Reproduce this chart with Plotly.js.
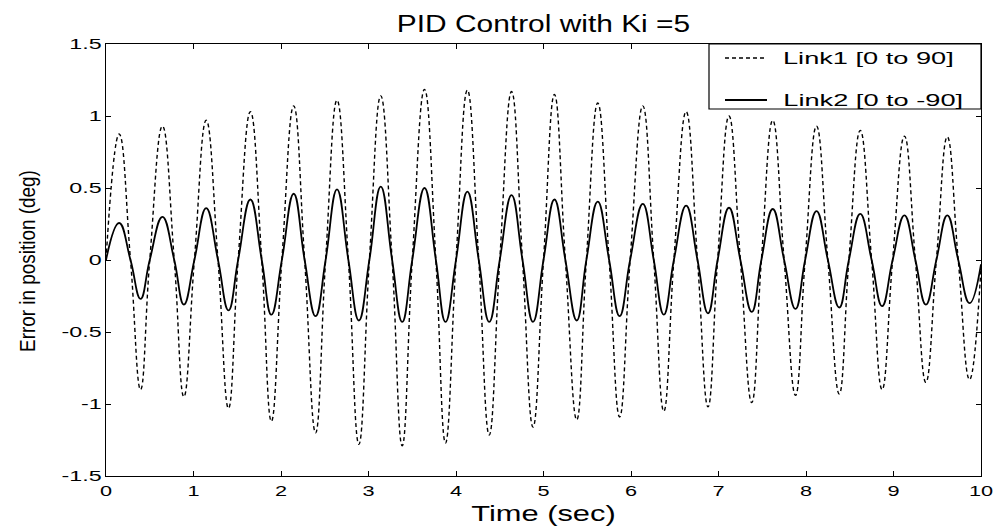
<!DOCTYPE html>
<html>
<head>
<meta charset="utf-8">
<script src="https://cdn.plot.ly/plotly-3.0.1.min.js"></script>
<style>
  html, body { margin: 0; padding: 0; background: #ffffff; }
  #chart { width: 994px; height: 528px; }
</style>
</head>
<body>
<div id="chart"></div>
<script>
// Time samples: start, then for each cycle peak, down-crossing, trough, up-crossing
const time = [0,
  0.15, 0.28, 0.395, 0.50,
  0.645, 0.78, 0.89, 1.01,
  1.145, 1.28, 1.40, 1.51,
  1.65, 1.78, 1.89, 2.01,
  2.145, 2.27, 2.395, 2.51,
  2.64, 2.77, 2.89, 3.01,
  3.14, 3.27, 3.385, 3.50,
  3.64, 3.77, 3.88, 4.00,
  4.13, 4.26, 4.38, 4.50,
  4.635, 4.76, 4.88, 5.00,
  5.125, 5.25, 5.38, 5.49,
  5.62, 5.75, 5.87, 5.99,
  6.135, 6.26, 6.375, 6.49,
  6.63, 6.76, 6.88, 6.99,
  7.12, 7.25, 7.38, 7.49,
  7.62, 7.75, 7.88, 7.99,
  8.12, 8.25, 8.38, 8.49,
  8.62, 8.75, 8.87, 8.99,
  9.125, 9.25, 9.37, 9.49,
  9.615, 9.74, 9.87, 10.0];

// Link1 [0 to 90] error (dashed)
const link1 = [0,
  0.875, 0, -0.90, 0,
  0.93, 0, -0.95, 0,
  0.97, 0, -1.03, 0,
  1.03, 0, -1.12, 0,
  1.07, 0, -1.20, 0,
  1.11, 0, -1.28, 0,
  1.14, 0, -1.29, 0,
  1.185, 0, -1.27, 0,
  1.18, 0, -1.215, 0,
  1.17, 0, -1.16, 0,
  1.15, 0, -1.11, 0,
  1.09, 0, -1.09, 0,
  1.07, 0, -1.05, 0,
  1.03, 0, -1.02, 0,
  1.00, 0, -0.99, 0,
  0.97, 0, -0.94, 0,
  0.93, 0, -0.93, 0,
  0.90, 0, -0.90, 0,
  0.86, 0, -0.85, 0,
  0.855, 0, -0.83, -0.05];

// Link2 [0 to -90] error (solid)
const link2 = [0,
  0.257, 0, -0.27, 0,
  0.30, 0, -0.31, 0,
  0.36, 0, -0.35, 0,
  0.42, 0, -0.38, 0,
  0.46, 0, -0.39, 0,
  0.49, 0, -0.42, 0,
  0.51, 0, -0.43, 0,
  0.50, 0, -0.43, 0,
  0.475, 0, -0.43, 0,
  0.45, 0, -0.43, 0,
  0.42, 0, -0.42, 0,
  0.405, 0, -0.39, 0,
  0.39, 0, -0.38, 0,
  0.377, 0, -0.37, 0,
  0.363, 0, -0.36, 0,
  0.354, 0, -0.34, 0,
  0.34, 0, -0.33, 0,
  0.32, 0, -0.32, 0,
  0.31, 0, -0.31, 0,
  0.31, 0, -0.30, -0.03];

const seriesNames = ['Link1 [0 to 90]', 'Link2 [0 to -90]'];
const xTicks = [0,1,2,3,4,5,6,7,8,9,10];
const yTicks = [-1.5,-1,-0.5,0,0.5,1,1.5];
const yTickText = ['-1.5','-1','-0.5','0','0.5','1','1.5'];
const chartTitle = 'PID Control with Ki =5';
const xTitle = 'Time (sec)';
const yTitle = 'Error in position (deg)';

const FONT = 'Liberation Sans, Arial, sans-serif';
const W = 994, H = 528, ML = 106, MR = 13, MT = 44, MB = 52;
const PW = W - ML - MR, PH = H - MT - MB;
const px = v => (v - ML) / PW;      // pixel x -> paper x
const py = v => (H - MB - v) / PH;  // pixel y -> paper y

const dashStyle = '4px,3px';

const traces = [
  {
    x: time, y: link1, name: seriesNames[0], type: 'scatter', mode: 'lines',
    line: {color: '#000000', width: 1.4, dash: dashStyle, shape: 'spline', smoothing: 1.3}
  },
  {
    x: time, y: link2, name: seriesNames[1], type: 'scatter', mode: 'lines',
    line: {color: '#000000', width: 1.8, shape: 'spline', smoothing: 1.3}
  }
];

// Legend drawn as a boxed key in the upper-right corner
const legendShapes = [
  {type: 'rect', xref: 'paper', yref: 'paper', x0: px(709), x1: 1, y0: py(109), y1: 1,
   line: {color: '#000000', width: 1.2}, fillcolor: '#ffffff', layer: 'above'},
  {type: 'line', xref: 'paper', yref: 'paper', x0: px(725), x1: px(767), y0: py(58), y1: py(58),
   line: {color: '#000000', width: 1.4, dash: dashStyle}, layer: 'above'},
  {type: 'line', xref: 'paper', yref: 'paper', x0: px(725), x1: px(767), y0: py(100), y1: py(100),
   line: {color: '#000000', width: 1.8}, layer: 'above'}
];
const annots = [
  {xref: 'paper', yref: 'paper', x: px(868), y: py(58), text: seriesNames[0], showarrow: false,
   xanchor: 'center', yanchor: 'middle', font: {family: FONT, size: 17, color: '#000000'}},
  {xref: 'paper', yref: 'paper', x: px(873), y: py(100), text: seriesNames[1], showarrow: false,
   xanchor: 'center', yanchor: 'middle', font: {family: FONT, size: 17, color: '#000000'}}
];

const layout = {
  width: W, height: H,
  margin: {l: ML, r: MR, t: MT, b: MB},
  paper_bgcolor: '#ffffff', plot_bgcolor: '#ffffff',
  font: {family: FONT, color: '#000000', size: 16},
  showlegend: false,
  title: {
    text: chartTitle,
    font: {family: FONT, size: 23, color: '#000000'},
    x: 0.5, xref: 'paper', xanchor: 'center',
    y: 1 - 23.5/528, yref: 'container', yanchor: 'middle'
  },
  xaxis: {
    range: [0, 10], tickvals: xTicks, ticktext: xTicks.map(String),
    ticks: 'inside', ticklen: 5, tickwidth: 1, tickcolor: '#000000',
    showline: true, linecolor: '#000000', linewidth: 1.2, mirror: 'ticks',
    showgrid: false, zeroline: false,
    tickfont: {family: FONT, size: 15.5, color: '#000000'},
    title: {text: xTitle, font: {family: FONT, size: 22, color: '#000000'}, standoff: 7}
  },
  yaxis: {
    range: [-1.5, 1.5], tickvals: yTicks, ticktext: yTickText,
    ticks: 'inside', ticklen: 5, tickwidth: 1, tickcolor: '#000000',
    showline: true, linecolor: '#000000', linewidth: 1.2, mirror: 'ticks',
    showgrid: false, zeroline: false,
    tickfont: {family: FONT, size: 15.5, color: '#000000'},
    title: {text: yTitle, font: {family: FONT, size: 19, color: '#000000'}}
  },
  shapes: legendShapes,
  annotations: annots
};

// The reference text is horizontally wide; widen horizontal labels around their anchors
function widen(nodes, factor) {
  nodes.forEach(el => {
    const len = el.getComputedTextLength();
    if (len > 0) {
      el.setAttribute('textLength', (len * factor).toFixed(2));
      el.setAttribute('lengthAdjust', 'spacingAndGlyphs');
    }
  });
}
// Scale an element about its own centre (in its parent's coordinates)
function scaleAbout(el, sx, sy, dx, dy) {
  const r = el.getBoundingClientRect();
  const ctm = el.parentNode.getScreenCTM();
  if (!ctm || r.width === 0) return;
  const cx = ((r.left + r.width / 2) - ctm.e) / ctm.a;
  const cy = ((r.top + r.height / 2) - ctm.f) / ctm.d;
  const prev = el.getAttribute('transform') || '';
  el.setAttribute('transform',
    'translate(' + (cx + (dx || 0)).toFixed(2) + ',' + (cy + (dy || 0)).toFixed(2) + ') scale(' + sx + ',' + sy + ') translate(' +
    (-cx).toFixed(2) + ',' + (-cy).toFixed(2) + ') ' + prev);
}
const q = s => Array.from(document.querySelectorAll('#chart ' + s));

Plotly.newPlot('chart', traces, layout, {displayModeBar: false, staticPlot: true}).then(() => {
  widen(q('text.gtitle'), 1.3);
  widen(q('g.xtick text'), 1.4);
  widen(q('g.ytick text'), 1.5);
  widen(q('text.xtitle'), 1.4);
  q('text.annotation-text').forEach(el => scaleAbout(el, 1.6, 1, 0, 0));
  // vertical title: place its centre at x = 27 px, y = 261 px, as in the reference
  q('text.ytitle').forEach(el => {
    const r = el.getBoundingClientRect();
    const sy = r.height > 0 ? 182 / r.height : 1;
    const dx = 27 - (r.left + r.width / 2);
    const dy = 261 - (r.top + r.height / 2);
    scaleAbout(el, 1.2, sy, dx, dy);
  });
});
</script>
</body>
</html>
